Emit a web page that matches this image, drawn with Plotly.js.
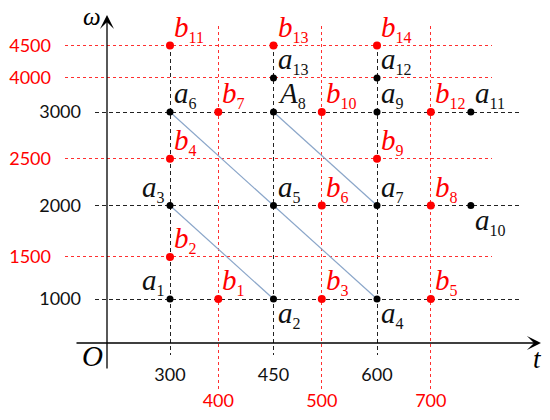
<!DOCTYPE html>
<html>
<head>
<meta charset="utf-8">
<script src="https://cdn.plot.ly/plotly-3.0.1.min.js"></script>
<style>
    html, body { margin:0; padding:0; background:#fff; }
</style>
</head>
<body>
<div id="chart" style="width:550px;height:420px;"></div>
<script>

/* ==========================================
   DATA
========================================== */

// grid levels (black = original points, red = new points)
const tBlack = [300, 450, 600];
const tRed = [400, 500, 700];
const wBlack = [1000, 2000, 3000];
const wRed = [1500, 2500, 4000, 4500];

// black points a1..a13 (a10 / a11 sit past the last grid column)
const aNames = ["a1","a2","a3","a4","a5","a6","a7","A8","a9","a10","a11","a12","a13"];
const aT = [300, 450, 300, 600, 450, 300, 600, 450, 600, 750, 750, 600, 450];
const aW = [1000, 1000, 2000, 1000, 2000, 3000, 2000, 3000, 3000, 2000, 3000, 4000, 4000];

// red points b1..b14
const bNames = ["b1","b2","b3","b4","b5","b6","b7","b8","b9","b10","b11","b12","b13","b14"];
const bT = [400, 300, 500, 300, 700, 500, 400, 700, 600, 500, 300, 700, 450, 600];
const bW = [1000, 1500, 1000, 2500, 1000, 2000, 3000, 2000, 2500, 3000, 4500, 3000, 4500, 4500];

// blue diagonals, by point name
const links = [["a3","a2"], ["a6","a5","a4"], ["A8","a7"]];


/* ==========================================
   SCALE (schematic, not linear)
========================================== */

const tKnots = [0, 300, 400, 450, 500, 600, 700, 750];
const tUnits = [209, 300, 370, 450, 520, 600, 678, 736];
const wKnots = [0, 1000, 1500, 2000, 2500, 3000, 4000, 4500];
const wUnits = [529, 1000, 1450, 2000, 2500, 3000, 3364, 3710];

function warp(v, knots, units){
    for(let i = 1; i < knots.length; i++){
        if(v <= knots[i]){
            const f = (v - knots[i-1]) / (knots[i] - knots[i-1]);
            return units[i-1] + f * (units[i] - units[i-1]);
        }
    }
    return units[units.length-1];
}
const wt = v => warp(v, tKnots, tUnits);
const ww = v => warp(v, wKnots, wUnits);

// pixel <-> unit, used only for axis domains / ranges
const W = 550, H = 420;
const pxToU = px => 300 + (px - 170) / 0.69;
const pyToV = py => 1000 + (299 - py) / 0.0935;


/* ==========================================
   HELPERS
========================================== */

function label(name){
    const m = name.match(/^([A-Za-z])(\d+)$/);
    return "<i>" + m[1] + "</i><sub><span style=\"font-size:16px\">" + m[2] + "</span></sub>";
}

function side(name){
    if(name === "a1" || name === "a3") return "tl";
    if(name === "a2" || name === "a4" || name === "a10") return "br";
    return "tr";
}

const labelFont = "Liberation Serif";
const tickFont = {family:"Lato", size:18};

// label placement around a point
const place = {
    tr:{xanchor:"left", yanchor:"bottom", xshift:2, yshift:-2},
    tl:{xanchor:"right", yanchor:"bottom", xshift:-3, yshift:-2},
    br:{xanchor:"left", yanchor:"top", xshift:2, yshift:4}
};

function pointLabels(names, ts, ws, color){
    return names.map((n, i) => Object.assign({
        xref:"x2", yref:"y2",
        x:wt(ts[i]), y:ww(ws[i]),
        text:label(n), showarrow:false,
        font:{family:labelFont, size:29, color:color}
    }, place[side(n)]));
}


/* ==========================================
   TRACES
========================================== */

let lx = [], ly = [];
links.forEach(seg => {
    seg.forEach(n => {
        const i = aNames.indexOf(n);
        lx.push(wt(aT[i]));
        ly.push(ww(aW[i]));
    });
    lx.push(null);
    ly.push(null);
});

const traces = [
    {
        // keeps the black grid subplot alive
        x:[], y:[], type:"scatter", xaxis:"x", yaxis:"y", hoverinfo:"skip"
    },
    {
        x:lx, y:ly, type:"scatter", mode:"lines",
        xaxis:"x2", yaxis:"y2",
        line:{color:"#8ba6c9", width:1.2},
        connectgaps:false, hoverinfo:"skip"
    },
    {
        x:aT.map(wt), y:aW.map(ww), type:"scatter", mode:"markers",
        xaxis:"x2", yaxis:"y2", cliponaxis:false,
        marker:{color:"#000", size:7}
    },
    {
        x:bT.map(wt), y:bW.map(ww), type:"scatter", mode:"markers",
        xaxis:"x2", yaxis:"y2", cliponaxis:false,
        marker:{color:"#ff0000", size:8}
    }
];


/* ==========================================
   LAYOUT
========================================== */

const axisBase = {
    anchor:"free", showline:false, zeroline:false, ticks:"",
    showgrid:true, gridwidth:1, fixedrange:true
};

const layout = {
    width:W, height:H,
    margin:{l:0, r:0, t:0, b:0},
    paper_bgcolor:"#fff", plot_bgcolor:"rgba(0,0,0,0)",
    showlegend:false,

    xaxis:Object.assign({}, axisBase, {
        domain:[95/W, 522/W], range:[pxToU(95), pxToU(522)],
        position:(H-343)/H,
        tickvals:tBlack.map(wt), ticktext:tBlack.map(String),
        tickfont:Object.assign({color:"#111"}, tickFont),
        gridcolor:"#222", griddash:"4px,3px",
        ticklabelstandoff:19
    }),
    yaxis:Object.assign({}, axisBase, {
        domain:[(H-355)/H, (H-45)/H], range:[pyToV(355), pyToV(45)],
        position:107/W,
        tickvals:wBlack.map(ww), ticktext:wBlack.map(String),
        tickfont:Object.assign({color:"#111"}, tickFont),
        gridcolor:"#222", griddash:"4px,3px",
        ticklabelstandoff:26
    }),
    xaxis2:Object.assign({}, axisBase, {
        domain:[65/W, 492/W], range:[pxToU(65), pxToU(492)],
        position:(H-343)/H,
        tickvals:tRed.map(wt), ticktext:tRed.map(String),
        tickfont:Object.assign({color:"#ff0000"}, tickFont),
        gridcolor:"#ff3030", griddash:"3px,3px",
        ticklabelstandoff:45
    }),
    yaxis2:Object.assign({}, axisBase, {
        domain:[(H-392)/H, (H-26)/H], range:[pyToV(392), pyToV(26)],
        position:107/W,
        tickvals:wRed.map(ww), ticktext:wRed.map(String),
        tickfont:Object.assign({color:"#ff0000"}, tickFont),
        gridcolor:"#ff3030", griddash:"3px,3px",
        ticklabelstandoff:56
    }),

    annotations:[
        // vertical axis with arrow
        {xref:"paper", yref:"paper", x:107/W, y:(H-15)/H, ax:0, ay:355,
         text:"", showarrow:true, arrowhead:3, arrowsize:1.8, arrowwidth:1.3,
         arrowcolor:"#000", standoff:0},
        // horizontal axis with arrow
        {xref:"paper", yref:"paper", x:541/W, y:(H-343)/H, ax:-466, ay:0,
         text:"", showarrow:true, arrowhead:3, arrowsize:1.8, arrowwidth:1.3,
         arrowcolor:"#000", standoff:0},
        {xref:"paper", yref:"paper", x:92/W, y:(H-17)/H, showarrow:false,
         xanchor:"center", yanchor:"middle",
         text:"<i>ω</i>", font:{family:labelFont, size:25, color:"#000"}},
        {xref:"paper", yref:"paper", x:92/W, y:(H-356)/H, showarrow:false,
         xanchor:"center", yanchor:"middle",
         text:"<i>O</i>", font:{family:labelFont, size:29, color:"#000"}},
        {xref:"paper", yref:"paper", x:537/W, y:(H-359)/H, showarrow:false,
         xanchor:"center", yanchor:"middle",
         text:"<i>t</i>", font:{family:labelFont, size:27, color:"#000"}}
    ].concat(
        pointLabels(aNames, aT, aW, "#111"),
        pointLabels(bNames, bT, bW, "#ff0000")
    )
};

Plotly.newPlot("chart", traces, layout, {displayModeBar:false, staticPlot:true});

</script>
</body>
</html>
